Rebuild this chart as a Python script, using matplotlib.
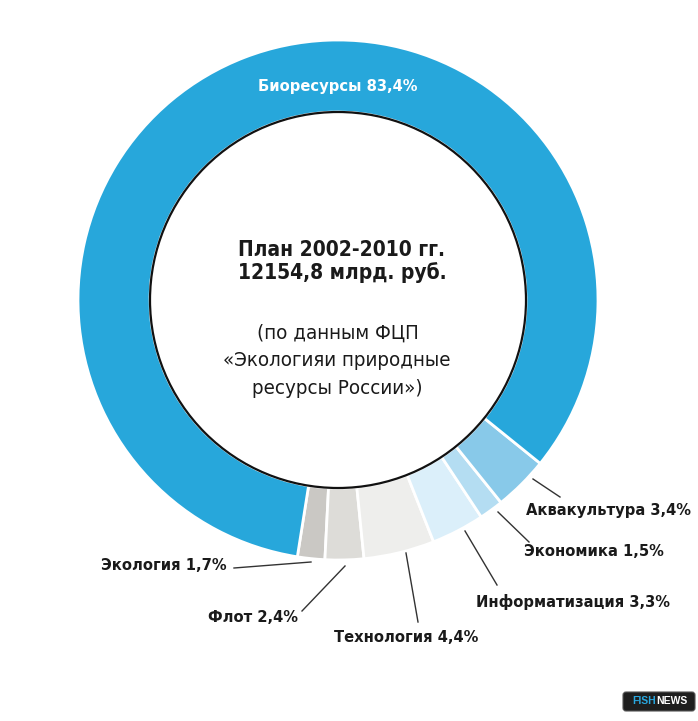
import matplotlib.pyplot as plt
from matplotlib import font_manager as fm
from matplotlib.patches import Circle, FancyBboxPatch
import numpy as np

# data (shares in %), going counter-clockwise from the bottom-left
names = ['Экология', 'Флот', 'Технология', 'Информатизация', 'Экономика', 'Аквакультура', 'Биоресурсы']
shares = [1.7, 2.4, 4.4, 3.3, 1.5, 3.4, 83.4]
colors = ['#cac8c4', '#dddcd8', '#eeeeec', '#dbeffa', '#b4ddf2', '#88c9e9', '#27a7db']

title_lines = ['План 2002-2010 гг.', '12154,8 млрд. руб.']
note_lines = ['(по данным ФЦП', '«Экологияи природные', 'ресурсы России»)']

W, H = 698, 721
def Y(y):
    return H - y

# a narrow face if one is installed, else a plain sans
family, stretch = 'Roboto', 'normal'
for f in fm.fontManager.ttflist:
    tag = (f.name + ' ' + f.fname).lower()
    if ('narrow' in tag or 'condensed' in tag) and 'mono' not in tag and 'serif' not in f.name.lower():
        family, stretch = f.name, f.stretch
        break
plt.rcParams['font.family'] = [family, 'DejaVu Sans']

fig = plt.figure(figsize=(W / 100, H / 100), dpi=100)
ax = fig.add_axes([0, 0, 1, 1])

cx, cy, R, r = 338, Y(300), 260, 188
ax.pie(shares, colors=colors, startangle=261, counterclock=True,
       radius=R, center=(cx, cy),
       wedgeprops=dict(width=R - r, edgecolor='white', linewidth=2))
ax.add_patch(Circle((cx, cy), r, fill=False, ec='#111111', lw=1.6, zorder=5))

ax.set_xlim(0, W)
ax.set_ylim(0, H)
ax.axis('off')

def label(i):
    return f'{names[i]} {shares[i]}'.replace('.', ',') + '%'

renderer = fig.canvas.get_renderer()

def fit_group(items, bold):
    # items: (x, y, text, target width, colour); one common size for the group
    texts, sizes = [], []
    for x, y, s, w, c in items:
        t = ax.text(x, Y(y), s, ha='center', va='center', fontsize=10,
                    fontweight='bold' if bold else 'normal', fontstretch=stretch,
                    color=c, zorder=6)
        sizes.append(10 * w / t.get_window_extent(renderer).width)
        texts.append(t)
    size = float(np.median(sizes))
    for t in texts:
        t.set_fontsize(size)

# label centres, target widths and leader lines (image pixel coords)
spots = [
    (0, 164, 565, 124, [(311, 562), (234, 568)]),
    (1, 253, 617, 90, [(345, 566), (302, 611)]),
    (2, 406, 638, 144, [(406, 553), (418, 622)]),
    (3, 573, 602, 194, [(465, 531), (497, 585)]),
    (4, 594, 552, 140, [(498, 512), (529, 542)]),
    (5, 608, 511, 148, [(533, 479), (560, 497)]),
]
items = []
for i, tx, ty, w, pts in spots:
    items.append((tx, ty, label(i), w, '#1a1a1a'))
    ax.plot([p[0] for p in pts], [Y(p[1]) for p in pts], color='#333333', lw=1)
items.append((338, 86, label(6), 153, 'white'))
fit_group(items, True)

fit_group([(341, 250, title_lines[0], 207, '#1a1a1a'),
           (342, 273, title_lines[1], 209, '#1a1a1a')], True)
fit_group([(338, 333, note_lines[0], 163, '#1a1a1a'),
           (337, 361, note_lines[1], 231, '#1a1a1a'),
           (337, 388, note_lines[2], 169, '#1a1a1a')], False)

# FISHNEWS badge
ax.add_patch(FancyBboxPatch((623, Y(711)), 72, 19, boxstyle='round,pad=0,rounding_size=3',
                            fc='#1e1e1e', ec='#555555', lw=0.8))
ax.text(656, Y(701), 'FISH', ha='right', va='center', fontsize=7.5,
        fontweight='bold', color='#29a8e0', family='Liberation Sans')
ax.text(656, Y(701), 'NEWS', ha='left', va='center', fontsize=7.5,
        fontweight='bold', color='white', family='Liberation Sans')

fig.savefig('out.png', dpi=100)
